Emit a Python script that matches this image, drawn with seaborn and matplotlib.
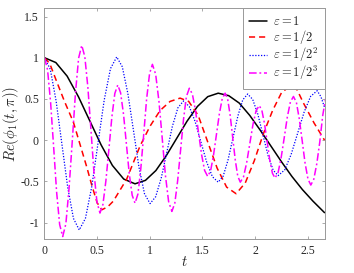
import numpy as np
import pandas as pd
import matplotlib
matplotlib.use("Agg")
import matplotlib.pyplot as plt
import seaborn as sns

# values
t_black = [0, 0.1075, 0.215, 0.3225, 0.43, 0.5375, 0.645, 0.7525, 0.86,
           0.959, 1.058, 1.156, 1.255, 1.354, 1.453, 1.551, 1.65,
           1.75, 1.85, 1.95, 2.05, 2.15, 2.25, 2.35, 2.45, 2.55, 2.66]
y_black = [1.0, 0.942, 0.777, 0.527, 0.235, -0.057, -0.307, -0.472, -0.53,
           -0.488, -0.369, -0.19, 0.02, 0.23, 0.409, 0.528, 0.57,
           0.54, 0.45, 0.30, 0.12, -0.07, -0.26, -0.44, -0.60, -0.74, -0.88]

t_red = [0, 0.05, 0.116, 0.19, 0.274, 0.33, 0.40, 0.45, 0.50, 0.545,
         0.60, 0.654, 0.78, 0.908, 1.003, 1.098, 1.193, 1.288, 1.37, 1.46,
         1.55, 1.64, 1.73, 1.82, 1.907, 1.993, 2.08, 2.167, 2.253, 2.34,
         2.40, 2.46, 2.51, 2.56, 2.66]
y_red = [1.0, 0.93, 0.71, 0.47, 0.22, -0.02, -0.32, -0.55, -0.76, -0.845,
         -0.81, -0.74, -0.475, -0.07, 0.17, 0.36, 0.47, 0.51, 0.47, 0.30,
         -0.02, -0.34, -0.57, -0.65, -0.52, -0.25, 0.08, 0.36, 0.58, 0.66,
         0.61, 0.45, 0.33, 0.21, 0.0]

t_blue = [0, 0.055, 0.11, 0.165, 0.22, 0.275, 0.33, 0.389, 0.449, 0.508,
          0.567, 0.627, 0.686, 0.739, 0.792, 0.845, 0.897, 0.95, 1.003,
          1.056, 1.109, 1.162, 1.214, 1.267, 1.32, 1.375, 1.43, 1.485,
          1.54, 1.595, 1.65, 1.697, 1.743, 1.79, 1.837, 1.883, 1.93, 1.978,
          2.027, 2.075, 2.123, 2.172, 2.22, 2.282, 2.343, 2.405, 2.467,
          2.528, 2.59, 2.625, 2.66]
y_blue = [1.0, 0.86, 0.478, -0.045, -0.568, -0.95, -1.09, -0.949, -0.565,
          -0.04, 0.485, 0.869, 1.01, 0.891, 0.565, 0.12, -0.325, -0.651,
          -0.77, -0.687, -0.459, -0.148, 0.164, 0.392, 0.475, 0.409, 0.229,
          -0.018, -0.264, -0.444, -0.51, -0.438, -0.243, 0.025, 0.293,
          0.488, 0.56, 0.494, 0.313, 0.065, -0.183, -0.364, -0.43, -0.361,
          -0.173, 0.085, 0.343, 0.531, 0.60, 0.53, 0.40]

t_mag = [0, 0.029, 0.058, 0.087, 0.115, 0.144, 0.173, 0.203, 0.233, 0.264,
         0.294, 0.324, 0.354, 0.383, 0.412, 0.441, 0.469, 0.498, 0.527,
         0.555, 0.583, 0.612, 0.64, 0.668, 0.696, 0.723, 0.751, 0.778,
         0.805, 0.833, 0.86, 0.888, 0.915, 0.943, 0.97, 0.998, 1.025,
         1.056, 1.087, 1.118, 1.148, 1.179, 1.21, 1.238, 1.265, 1.293,
         1.321, 1.348, 1.376, 1.405, 1.434, 1.463, 1.492, 1.521, 1.55,
         1.578, 1.605, 1.633, 1.661, 1.688, 1.716, 1.74, 1.764, 1.788,
         1.812, 1.836, 1.86, 1.89, 1.92, 1.95, 1.98, 2.01, 2.04, 2.065,
         2.09, 2.115, 2.14, 2.165, 2.19, 2.219, 2.248, 2.278, 2.307, 2.336,
         2.365, 2.393, 2.42, 2.448, 2.475, 2.503, 2.53, 2.558, 2.587, 2.615,
         2.643, 2.67]
y_mag = [1.0, 0.855, 0.458, -0.085, -0.628, -1.025, -1.17, -1.015, -0.59,
         -0.01, 0.57, 0.995, 1.15, 1.014, 0.641, 0.133, -0.376, -0.749,
         -0.885, -0.781, -0.496, -0.108, 0.281, 0.566, 0.67, 0.574, 0.311,
         -0.047, -0.406, -0.669, -0.765, -0.652, -0.344, 0.078, 0.499,
         0.807, 0.92, 0.80, 0.474, 0.028, -0.419, -0.745, -0.865, -0.765,
         -0.491, -0.118, 0.256, 0.53, 0.63, 0.558, 0.363, 0.095, -0.173,
         -0.368, -0.44, -0.372, -0.188, 0.065, 0.318, 0.502, 0.57, 0.498,
         0.30, 0.03, -0.24, -0.438, -0.51, -0.448, -0.278, -0.045, 0.188,
         0.358, 0.42, 0.361, 0.20, -0.02, -0.24, -0.401, -0.46, -0.394,
         -0.213, 0.035, 0.283, 0.464, 0.53, 0.458, 0.261, -0.008, -0.276,
         -0.473, -0.545, -0.475, -0.284, -0.023, 0.30, 0.50]

labels = [r"$\varepsilon=1$", r"$\varepsilon=1/2$",
          r"$\varepsilon=1/2^2$", r"$\varepsilon=1/2^3$"]
x_ticks = [0, 0.5, 1, 1.5, 2, 2.5]
x_ticklabels = ["0", "0.5", "1", "1.5", "2", "2.5"]
y_ticks = [-1, -0.5, 0, 0.5, 1, 1.5]
y_ticklabels = ["-1", "-0.5", "0", "0.5", "1", "1.5"]

sns.set_style("ticks")
plt.rcParams["font.family"] = ["Liberation Serif", "DejaVu Serif"]
plt.rcParams["mathtext.fontset"] = "cm"
plt.rcParams["axes.unicode_minus"] = False

fig = plt.figure(figsize=(3.54, 2.73), dpi=100)
ax = fig.add_axes([0.1257, 0.1245, 0.791, 0.845])

series = [
    (t_black, y_black, "black", "-", 1.1),
    (t_red, y_red, "#ff0000", (0, (4, 2.6)), 1.1),
    (t_blue, y_blue, "#0000ff", (0, (1, 1.3)), 0.9),
    (t_mag, y_mag, "#ff00ff", (0, (5, 1.8, 1.2, 1.8)), 1.1),
]
for (tt, yy, c, ls, lw), lab in zip(series, labels):
    df = pd.DataFrame({"t": tt, "y": yy})
    sns.lineplot(data=df, x="t", y="y", ax=ax, color=c, linestyle=ls,
                 linewidth=lw, label=lab, estimator=None, sort=False)

ax.set_xlim(0, 2.66)
ax.set_ylim(-1.2, 1.6)
ax.set_xticks(x_ticks)
ax.set_xticklabels(x_ticklabels)
ax.set_yticks(y_ticks)
ax.set_yticklabels(y_ticklabels)
ax.tick_params(direction="in", length=2.5, width=0.5, color="#888888",
               labelsize=8.5, top=True, right=True, pad=4)
for sp in ax.spines.values():
    sp.set_visible(True)
    sp.set_color("#999999")
    sp.set_linewidth(0.7)

ax.set_xlabel(r"$t$", fontsize=10.5, labelpad=-1)
ax.set_ylabel(r"$Re(\phi_1(t,\pi))$", fontsize=10.5)
ax.yaxis.set_label_coords(-0.084, 0.5)

leg = ax.legend(loc="upper right", fontsize=9, frameon=True, fancybox=False,
                framealpha=1, borderaxespad=0, handlelength=1.4,
                handletextpad=0.45, labelspacing=0.0, borderpad=0.55)
leg.get_frame().set_edgecolor("#999999")
leg.get_frame().set_linewidth(0.7)

fig.savefig("out.png", dpi=100)
